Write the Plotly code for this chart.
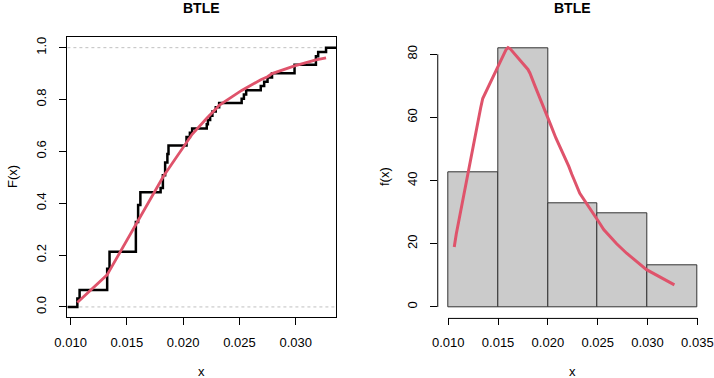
import numpy as np
import plotly.graph_objects as go

# ---- data ----
sample_values = [0.0106, 0.0108, 0.01325, 0.01346, 0.0158, 0.0160, 0.0162, 0.0180,
                 0.0182, 0.0184, 0.0186, 0.0187, 0.0203, 0.0206, 0.0208,
                 0.0221, 0.0222, 0.0224, 0.0226, 0.0229, 0.0232,
                 0.0252, 0.0254, 0.0256, 0.0269, 0.0272, 0.0275, 0.0279,
                 0.0299, 0.0318, 0.0320, 0.0327]
sample_counts = [2, 2, 5, 4, 7, 4, 3, 1,
                 3, 3, 2, 2, 2, 1, 1,
                 1, 1, 1, 1, 1, 1,
                 1, 1, 1, 1, 1, 1, 1,
                 2, 2, 1, 1]

fit_cdf = [0.017, 0.025, 0.124, 0.140, 0.318, 0.336, 0.353, 0.485,
           0.500, 0.514, 0.527, 0.534, 0.638, 0.655, 0.666,
           0.728, 0.733, 0.742, 0.750, 0.763, 0.778,
           0.835, 0.840, 0.846, 0.876, 0.882, 0.888, 0.900,
           0.930, 0.953, 0.955, 0.961]
fit_pdf = [19.0, 23.0, 63.0, 66.0, 81.5, 82.1, 81.8, 75.2,
           74.0, 72.5, 71.0, 70.0, 57.5, 55.0, 53.5,
           44.5, 43.5, 42.0, 40.5, 38.0, 36.0,
           26.5, 25.5, 24.5, 20.0, 19.0, 18.0, 17.0,
           11.8, 8.5, 8.2, 7.0]

bin_edges = [0.010, 0.015, 0.020, 0.025, 0.030, 0.035]
x_ticks_left = [0.010, 0.015, 0.020, 0.025, 0.030]
x_ticks_right = [0.010, 0.015, 0.020, 0.025, 0.030, 0.035]
y_ticks_left = [0.0, 0.2, 0.4, 0.6, 0.8, 1.0]
y_ticks_right = [0, 20, 40, 60, 80]
title_text = "BTLE"

RED = "#DF536B"
FONT = "Liberation Sans, Arial, Helvetica, sans-serif"
W, H = 714, 378

data = np.sort(np.repeat(sample_values, sample_counts))
n = len(data)
span = data.max() - data.min()
xlo, xhi = data.min() - 0.04 * span, data.max() + 0.04 * span

step_x = np.concatenate([[xlo], data, [xhi]])
step_y = np.concatenate([[0.0], np.arange(1, n + 1) / n, [1.0]])

counts, _ = np.histogram(data, bins=bin_edges)
widths = np.diff(bin_edges)
dens = counts / (n * widths)
centers = (np.array(bin_edges[:-1]) + np.array(bin_edges[1:])) / 2
ymax = max(dens.max(), max(fit_pdf))

fig = go.Figure()
fig.add_trace(go.Scatter(x=step_x, y=step_y, mode="lines", line=dict(color="black", width=2.5, shape="hv"),
                         xaxis="x", yaxis="y", showlegend=False))
fig.add_trace(go.Scatter(x=sample_values, y=fit_cdf, mode="lines", line=dict(color=RED, width=2.8),
                         xaxis="x", yaxis="y", showlegend=False))
fig.add_trace(go.Bar(x=centers, y=dens, width=widths, marker=dict(color="#CBCBCB", line=dict(color="#333333", width=1)),
                     xaxis="x2", yaxis="y2", showlegend=False))
fig.add_trace(go.Scatter(x=sample_values, y=fit_pdf, mode="lines", line=dict(color=RED, width=3),
                         xaxis="x2", yaxis="y2", showlegend=False))

dom_y = [1 - 317.3 / H, 1 - 37.3 / H]
dom_x1 = [67.4 / W, 336 / W]
dom_x2 = [438.3 / W, 707.3 / W]
tickfont = dict(family=FONT, size=13, color="black")

common = dict(showgrid=False, zeroline=False, ticks="outside", ticklen=7, tickcolor="black",
              tickwidth=1, tickfont=tickfont, automargin=False)

fig.update_layout(
    template="none",
    width=W, height=H, margin=dict(l=0, r=0, t=0, b=0, pad=0), autosize=False,
    paper_bgcolor="white", plot_bgcolor="white", bargap=0,
    xaxis=dict(domain=dom_x1, range=[xlo, xhi], anchor="y", tickvals=x_ticks_left,
               ticktext=[f"{v:.3f}" for v in x_ticks_left], showline=True, mirror=True,
               linecolor="black", linewidth=1, ticklabelstandoff=6, **common),
    yaxis=dict(domain=dom_y, range=[-0.04, 1.04], anchor="x", tickvals=y_ticks_left,
               ticktext=[f"{v:.1f}" for v in y_ticks_left], tickangle=-90, showline=True, mirror=True,
               linecolor="black", linewidth=1, ticklabelstandoff=8, **common),
    xaxis2=dict(domain=dom_x2, range=[0.009, 0.036], anchor="y2", tickvals=x_ticks_right,
                ticktext=[f"{v:.3f}" for v in x_ticks_right], showline=False, ticklabelstandoff=6, **common),
    yaxis2=dict(domain=dom_y, range=[-0.04 * ymax, 1.04 * ymax], anchor="x2", tickvals=y_ticks_right,
                ticktext=[str(v) for v in y_ticks_right], tickangle=-90, showline=False,
                ticklabelstandoff=8, **common),
)

shapes = []
for yv in [0, 1]:
    shapes.append(dict(type="line", xref="x domain", yref="y", x0=0, x1=1, y0=yv, y1=yv,
                       line=dict(color="#C0C0C0", width=1, dash="dot"), layer="below"))
shapes.append(dict(type="line", xref="x2", yref="y2 domain", x0=bin_edges[0], x1=bin_edges[-1], y0=-0.004, y1=-0.004,
                   line=dict(color="black", width=1)))
shapes.append(dict(type="line", xref="x2 domain", yref="y2", x0=-0.002, x1=-0.002, y0=y_ticks_right[0], y1=y_ticks_right[-1],
                   line=dict(color="black", width=1)))
fig.update_layout(shapes=shapes)

ann = []
for cx in [(dom_x1[0] + dom_x1[1]) / 2, (dom_x2[0] + dom_x2[1]) / 2]:
    ann.append(dict(text=f"<b>{title_text}</b>", x=cx, y=1 - 8 / H, xref="paper", yref="paper",
                    showarrow=False, font=dict(family=FONT, size=14, color="black"), xanchor="center", yanchor="middle"))
    ann.append(dict(text="x", x=cx, y=1 - 371 / H, xref="paper", yref="paper",
                    showarrow=False, font=dict(family=FONT, size=13, color="black"), xanchor="center", yanchor="middle"))
cy = 1 - 177 / H
ann.append(dict(text="F(x)", x=12 / W, y=cy, xref="paper", yref="paper", textangle=-90,
                showarrow=False, font=dict(family=FONT, size=13, color="black"), xanchor="center", yanchor="middle"))
ann.append(dict(text="f(x)", x=384 / W, y=cy, xref="paper", yref="paper", textangle=-90,
                showarrow=False, font=dict(family=FONT, size=13, color="black"), xanchor="center", yanchor="middle"))
fig.update_layout(annotations=ann)

fig.write_html("out.html", config={"displayModeBar": False},
               post_script="document.body.style.margin='0px';")
